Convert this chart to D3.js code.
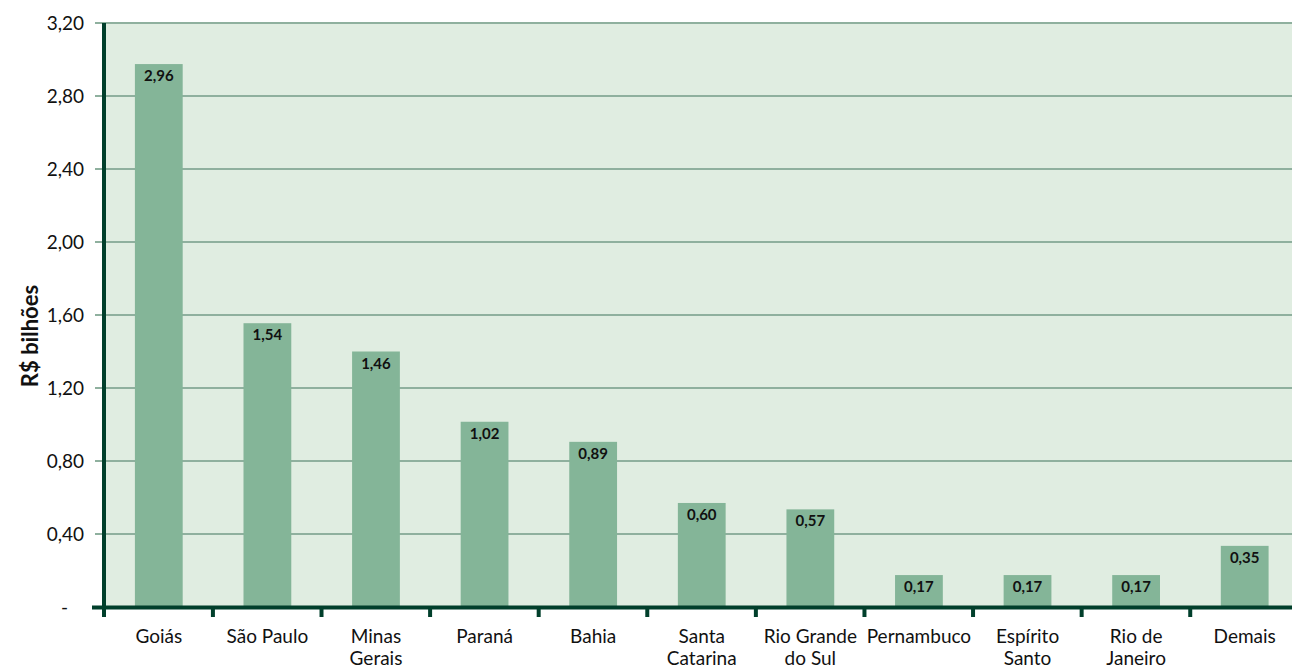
<!DOCTYPE html>
<html>
<head>
<meta charset="utf-8">
<script src="https://cdn.jsdelivr.net/npm/d3@7"></script>
<style>
  body { margin: 0; background: #fff; }
  svg text { font-family: Lato, "Noto Sans", sans-serif; fill: #111; }
</style>
</head>
<body>
<div class="holder"></div>
<script>
const width = 1292;
const height = 671;

const categories = ['Goiás', 'São Paulo', 'Minas Gerais', 'Paraná', 'Bahia', 'Santa Catarina',
  'Rio Grande do Sul', 'Pernambuco', 'Espírito Santo', 'Rio de Janeiro', 'Demais'];
const categoryLines = [['Goiás'], ['São Paulo'], ['Minas', 'Gerais'], ['Paraná'], ['Bahia'],
  ['Santa', 'Catarina'], ['Rio Grande', 'do Sul'], ['Pernambuco'], ['Espírito', 'Santo'],
  ['Rio de', 'Janeiro'], ['Demais']];
const values = [2.96, 1.54, 1.46, 1.02, 0.89, 0.60, 0.57, 0.17, 0.17, 0.17, 0.35];
const barHeights = [2.975, 1.555, 1.4, 1.015, 0.905, 0.57, 0.535, 0.175, 0.175, 0.175, 0.335];
const yTicks = [0, 0.4, 0.8, 1.2, 1.6, 2.0, 2.4, 2.8, 3.2];

const fmt = v => v.toFixed(2).replace('.', ',');

const svg = d3.select('.holder')
  .append('svg')
  .attr('width', width)
  .attr('height', height);

const yScale = d3.scaleLinear().domain([0, 3.2]).range([607, 23]);
const xScale = d3.scaleBand()
  .domain(categories)
  .range([104.5, 1299])
  .paddingInner(0.56)
  .paddingOuter(0.28);

// plot background
svg.append('rect')
  .attr('x', 104)
  .attr('y', yScale(3.2))
  .attr('width', width - 104)
  .attr('height', yScale(0) - yScale(3.2))
  .style('fill', '#e0ede1');

// grid lines
svg.append('g')
  .selectAll('line')
  .data(yTicks.filter(d => d > 0))
  .enter()
  .append('line')
  .attr('x1', 95)
  .attr('x2', width)
  .attr('y1', d => yScale(d))
  .attr('y2', d => yScale(d))
  .style('stroke', '#8fb09e')
  .style('stroke-width', 2);

// y tick labels
svg.append('g')
  .selectAll('text')
  .data(yTicks)
  .enter()
  .append('text')
  .attr('x', d => d === 0 ? 68 : 84)
  .attr('y', d => yScale(d))
  .attr('dy', '0.35em')
  .attr('text-anchor', 'end')
  .style('font-size', '19px')
  .text(d => d === 0 ? '-' : fmt(d));

// bars
svg.append('g')
  .selectAll('rect')
  .data(barHeights)
  .enter()
  .append('rect')
  .attr('x', (d, i) => xScale(categories[i]))
  .attr('y', d => yScale(d))
  .attr('width', xScale.bandwidth())
  .attr('height', d => yScale(0) - yScale(d))
  .style('fill', '#84b598');

// value labels
svg.append('g')
  .selectAll('text')
  .data(values)
  .enter()
  .append('text')
  .attr('x', (d, i) => xScale(categories[i]) + xScale.bandwidth() / 2)
  .attr('y', (d, i) => yScale(barHeights[i]) + 17)
  .attr('text-anchor', 'middle')
  .style('font-size', '15px')
  .style('font-weight', 'bold')
  .text(d => fmt(d));

// y axis line
svg.append('line')
  .attr('x1', 104)
  .attr('x2', 104)
  .attr('y1', yScale(3.2))
  .attr('y2', 617)
  .style('stroke', '#013f2b')
  .style('stroke-width', 4);

// x axis line and ticks
svg.append('line')
  .attr('x1', 92)
  .attr('x2', width)
  .attr('y1', 607.5)
  .attr('y2', 607.5)
  .style('stroke', '#013f2b')
  .style('stroke-width', 4);

svg.append('g')
  .selectAll('line')
  .data(categories.slice(1))
  .enter()
  .append('line')
  .attr('x1', d => xScale(d) - xScale.bandwidth() * 0.64)
  .attr('x2', d => xScale(d) - xScale.bandwidth() * 0.64)
  .attr('y1', 607)
  .attr('y2', 617)
  .style('stroke', '#013f2b')
  .style('stroke-width', 4);

// category labels
const cat = svg.append('g')
  .selectAll('text')
  .data(categoryLines)
  .enter()
  .append('text')
  .attr('text-anchor', 'middle')
  .style('font-size', '19px')
  .attr('transform', (d, i) => 'translate(' + (xScale(categories[i]) + xScale.bandwidth() / 2) + ',643)');

cat.selectAll('tspan')
  .data(d => d)
  .enter()
  .append('tspan')
  .attr('x', 0)
  .attr('y', (d, i) => i * 22)
  .text(d => d);

// y axis title
svg.append('text')
  .attr('transform', 'translate(38, 336) rotate(-90)')
  .attr('text-anchor', 'middle')
  .style('font-size', '22px')
  .style('font-weight', 'bold')
  .text('R$ bilhões');
</script>
</body>
</html>
